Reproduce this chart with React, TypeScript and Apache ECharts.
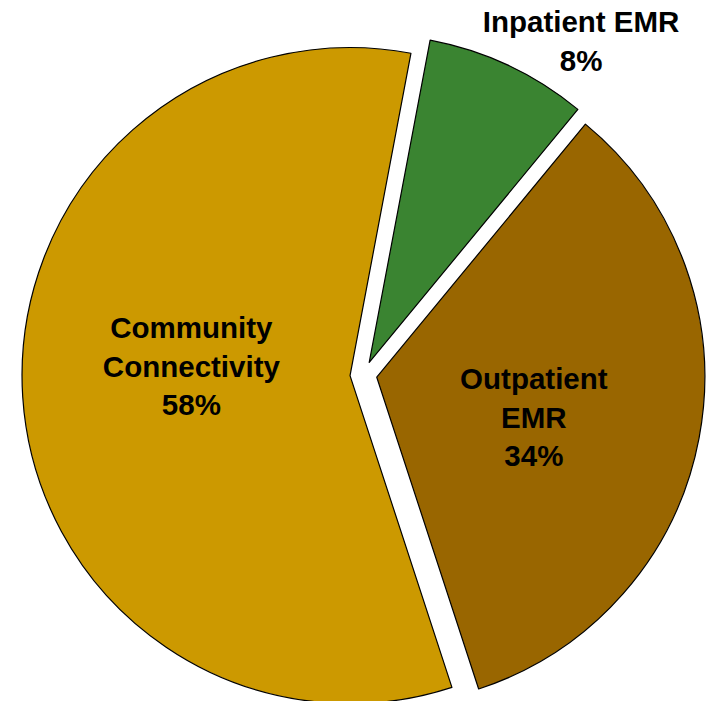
import React, { useEffect, useRef } from "react";
import * as echarts from "echarts";

// Share of spend by program area (percent)
const categories = ["Inpatient EMR", "Outpatient EMR", "Community Connectivity"];
const labelNames = ["Inpatient EMR", "Outpatient\nEMR", "Community\nConnectivity"];
const shares = [8, 34, 58];
const sliceColors = ["#3A8431", "#996600", "#CC9900"];

// Nudges applied to each label from its default inside position
const labelNudges: [number, number][] = [
  [141, -170],
  [-7, 9],
  [8, -20],
];

export default function App() {
  const ref = useRef<HTMLDivElement>(null);

  useEffect(() => {
    if (!ref.current) return;
    const chart = echarts.init(ref.current, undefined, { renderer: "svg" });

    const data = categories.map((name, i) => ({
      name,
      value: shares[i],
      selected: true,
      itemStyle: { color: sliceColors[i] },
      select: { itemStyle: { color: sliceColors[i] } },
    }));

    chart.setOption({
      animation: false,
      backgroundColor: "#ffffff",
      series: [
        {
          type: "pie",
          center: [363.5, 374.7],
          radius: 328,
          startAngle: 79.3,
          clockwise: true,
          selectedMode: "multiple",
          selectedOffset: 13.5,
          emphasis: { disabled: true },
          itemStyle: { borderColor: "#000000", borderWidth: 1.2 },
          label: {
            show: true,
            position: "inside",
            color: "#000000",
            fontFamily: "'Liberation Sans', Arial, sans-serif",
            fontWeight: "bold",
            fontSize: 29.5,
            lineHeight: 38.5,
            align: "center",
            formatter: (p: any) => `${labelNames[p.dataIndex]}\n${p.value}%`,
          },
          labelLine: { show: false },
          labelLayout: (p: any) => ({
            dx: labelNudges[p.dataIndex][0],
            dy: labelNudges[p.dataIndex][1],
          }),
          data,
        },
      ],
    });

    return () => chart.dispose();
  }, []);

  return (
    <div
      ref={ref}
      style={{
        position: "absolute",
        left: 0,
        top: 0,
        width: 708,
        height: 701,
        overflow: "hidden",
      }}
    />
  );
}
